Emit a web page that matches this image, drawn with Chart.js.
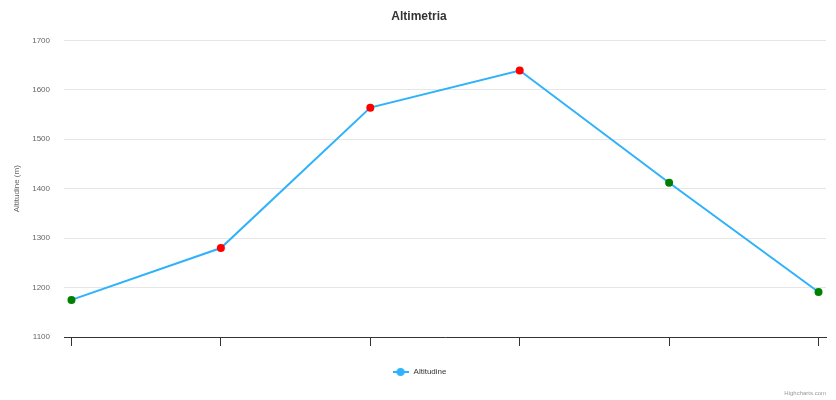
<!DOCTYPE html>
<html>
<head>
<meta charset="utf-8">
<script src="https://cdn.jsdelivr.net/npm/chart.js@4"></script>
<style>
  body { margin: 0; background: #fff; }
  #box { width: 836px; height: 400px; }
</style>
</head>
<body>
<div id="box"><canvas id="grafico"></canvas></div>
<script>
const categories = ['', '', '', '', '', ''];
const altitudine = [1175, 1280, 1564, 1639, 1412, 1191];
const pointColors = ['#008000', '#ff0000', '#ff0000', '#ff0000', '#008000', '#008000'];
const yTicks = [1100, 1200, 1300, 1400, 1500, 1600, 1700];

const lineColor = '#2db2fb';
const font = "'Liberation Sans', Arial, sans-serif";

// legend symbol: short line with a dot in the middle
const sym = document.createElement('canvas');
sym.width = 16; sym.height = 10;
const sc = sym.getContext('2d');
sc.strokeStyle = lineColor; sc.lineWidth = 2;
sc.beginPath(); sc.moveTo(0, 5); sc.lineTo(16, 5); sc.stroke();
sc.fillStyle = lineColor;
sc.beginPath(); sc.arc(8, 5, 4, 0, Math.PI * 2); sc.fill();

const credits = {
  id: 'credits',
  afterDraw(chart) {
    const c = chart.ctx;
    c.save();
    c.font = '6px ' + font;
    c.fillStyle = '#999';
    c.textAlign = 'right';
    c.textBaseline = 'middle';
    c.fillText('Highcharts.com', 826, 393);
    c.restore();
  }
};

const ctx = document.getElementById('grafico').getContext('2d');
const myChart = new Chart(ctx, {
  type: 'line',
  data: {
    datasets: [{
      label: 'Altitudine',
      data: altitudine.map((v, i) => ({ x: i, y: v })),
      borderColor: lineColor,
      backgroundColor: lineColor,
      borderWidth: 2,
      pointRadius: 4,
      pointHoverRadius: 5,
      pointBorderWidth: 0,
      pointBackgroundColor: pointColors,
      pointBorderColor: pointColors,
      tension: 0
    }]
  },
  plugins: [credits],
  options: {
    responsive: true,
    maintainAspectRatio: false,
    animation: false,
    layout: { padding: { left: 12, right: 10, bottom: 14 } },
    plugins: {
      title: {
        display: true,
        text: 'Altimetria',
        color: '#333',
        font: { family: font, size: 12, weight: 'bold' },
        padding: { top: 9, bottom: 17 }
      },
      legend: {
        position: 'bottom',
        labels: {
          color: '#333',
          font: { family: font, size: 8 },
          usePointStyle: true,
          pointStyle: sym,
          pointStyleWidth: 18,
          boxWidth: 16,
          boxHeight: 8,
          padding: 10
        }
      },
      tooltip: { enabled: false }
    },
    scales: {
      x: {
        type: 'linear',
        min: -0.05,
        max: 5.05,
        afterBuildTicks: s => { s.ticks = categories.map((c, i) => ({ value: i })); },
        afterFit: s => { s.height = 21; },
        ticks: { callback: (v) => categories[v] || '', font: { family: font, size: 8 } },
        grid: { drawOnChartArea: false, drawTicks: true, tickLength: 9, color: '#333', lineWidth: 1 },
        border: { color: '#333', width: 1 }
      },
      y: {
        min: 1100,
        max: 1700,
        afterBuildTicks: s => { s.ticks = yTicks.map(v => ({ value: v })); },
        afterFit: s => { s.width = 52; },
        ticks: { color: '#666', font: { family: font, size: 8 }, padding: 14, callback: v => String(v) },
        grid: { color: '#e6e6e6', drawTicks: false },
        border: { display: false },
        title: {
          display: true,
          text: 'Altitudine (m)',
          color: '#666',
          font: { family: font, size: 8 },
          padding: { top: 0, bottom: 0 }
        }
      }
    }
  }
});
</script>
</body>
</html>
